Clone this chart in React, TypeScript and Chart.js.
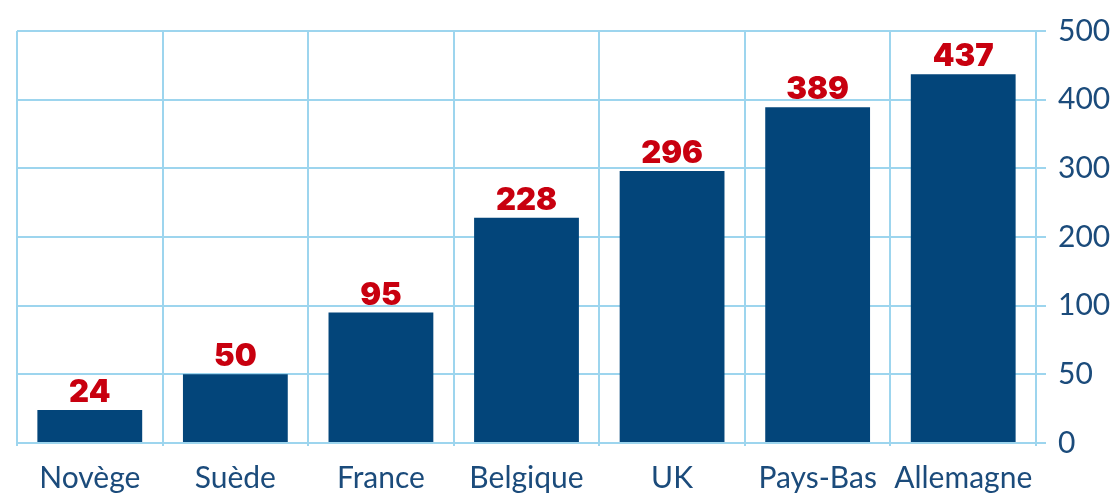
import React, { useEffect, useRef } from "react";
import { Chart, LinearScale, registerables } from "chart.js";

const categories = ["Novège", "Suède", "France", "Belgique", "UK", "Pays-Bas", "Allemagne"];
const values = [24, 50, 95, 228, 296, 389, 437];
const yTickValues = [0, 50, 100, 200, 300, 400, 500];

// Axis with evenly spaced, unevenly valued ticks (as in the original chart)
class SegmentScale extends LinearScale {
  static id = "segment";
  buildTicks() {
    return yTickValues.map((v) => ({ value: v }));
  }
  getPixelForValue(value: number) {
    if (value === null || value === undefined || isNaN(value)) return NaN;
    const b = yTickValues;
    const n = b.length - 1;
    let u: number;
    if (value <= b[0]) u = (value - b[0]) / (b[1] - b[0]);
    else if (value >= b[n]) u = n + (value - b[n]) / (b[n] - b[n - 1]);
    else {
      let i = 0;
      while (i < n && value > b[i + 1]) i++;
      u = i + (value - b[i]) / (b[i + 1] - b[i]);
    }
    return (this as any).getPixelForDecimal(u / n);
  }
  getValueForPixel(pixel: number) {
    const b = yTickValues;
    const n = b.length - 1;
    const u = (this as any).getDecimalForPixel(pixel) * n;
    const i = Math.max(0, Math.min(n - 1, Math.floor(u)));
    return b[i] + (u - i) * (b[i + 1] - b[i]);
  }
}

Chart.register(...registerables, SegmentScale as any);

const BAR = "#03457A";
const RED = "#C8000F";
const GRID = "#9DD5EE";
const TEXT = "#1B4B7B";

const valueLabels = {
  id: "valueLabels",
  afterDatasetsDraw(chart: any) {
    const ctx = chart.ctx;
    const meta = chart.getDatasetMeta(0);
    ctx.save();
    ctx.font = '900 31px "Inter", "Lato", sans-serif';
    ctx.fillStyle = RED;
    ctx.textAlign = "center";
    ctx.textBaseline = "alphabetic";
    meta.data.forEach((el: any, i: number) => {
      ctx.fillText(String(values[i]), el.x, el.y - 8);
    });
    ctx.restore();
  },
};

export default function App() {
  const ref = useRef<HTMLCanvasElement>(null);
  useEffect(() => {
    const chart = new Chart(ref.current!, {
      type: "bar",
      data: {
        labels: categories,
        datasets: [
          {
            data: values,
            backgroundColor: BAR,
            borderWidth: 0,
            barPercentage: 0.72,
            categoryPercentage: 1,
          },
        ],
      },
      options: {
        animation: false,
        responsive: false,
        layout: { padding: { top: 31, left: 17, right: 0, bottom: 0 } },
        plugins: { legend: { display: false }, tooltip: { enabled: false } },
        scales: {
          x: {
            grid: { color: GRID, lineWidth: 2, tickLength: 3, offset: true },
            border: { display: false },
            ticks: {
              color: TEXT,
              padding: 14,
              font: { family: '"Lato", "Open Sans", sans-serif', size: 30 },
              maxRotation: 0,
              autoSkip: false,
            },
            afterFit: (s: any) => {
              s.height = 52;
            },
          },
          y: {
            type: "segment" as any,
            position: "right",
            min: 0,
            max: 500,
            grid: { color: GRID, lineWidth: 2, tickLength: 10 },
            border: { display: true, color: GRID, width: 2 },
            ticks: {
              color: TEXT,
              padding: 12,
              font: { family: '"Lato", "Open Sans", sans-serif', size: 30 },
              callback: (v: any) => String(v),
            },
            afterFit: (s: any) => {
              s.width = 81;
            },
          } as any,
        },
      },
      plugins: [valueLabels],
    });
    return () => chart.destroy();
  }, []);
  return (
    <div style={{ position: "fixed", left: 0, top: 0, width: 1117, height: 495, background: "#fff" }}>
      <canvas ref={ref} width={1117} height={495} />
    </div>
  );
}
